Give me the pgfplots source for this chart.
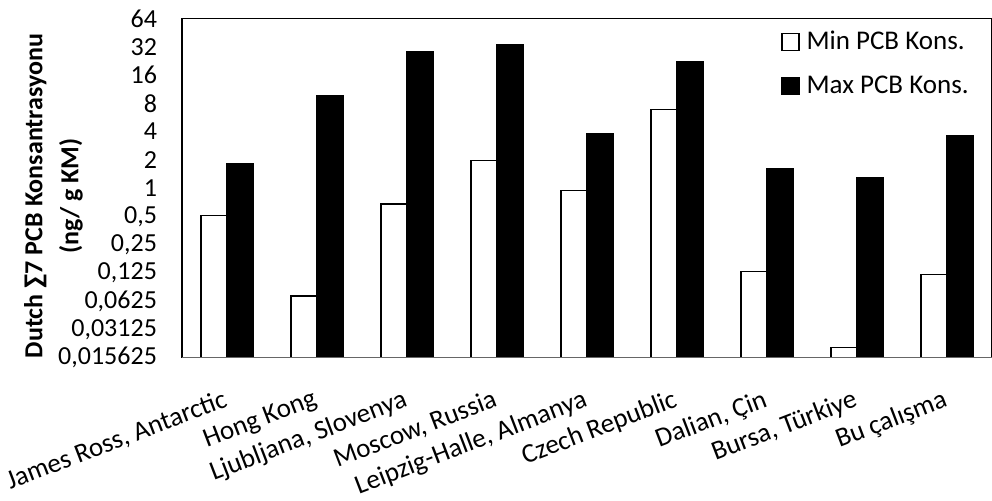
\documentclass[border=0pt]{standalone}
\usepackage{fontspec}
\setmainfont{Carlito}
\usepackage{pgfplots}
\pgfplotsset{compat=1.18}
\pgfplotstableread{
x min max
0 0.507 1.80
1 0.0707 9.7
2 0.674 28.3
3 1.98 33.9
4 0.946 3.78
5 6.9 22.4
6 0.130 1.62
7 0.0199 1.30
8 0.120 3.64
}\pcbdata
\begin{document}
\begin{tikzpicture}
\begin{axis}[
  at={(0pt,0pt)}, anchor=south west,
  scale only axis, width=405pt, height=169.5pt,
  xmin=-0.5, xmax=8.5,
  ymode=log, log basis y=2, ymin=0.015625, ymax=64, log origin=infty,
  ybar=0pt, bar width=13pt,
  xtick={0,1,2,3,4,5,6,7,8},
  xticklabels={{James Ross, Antarctic},{Hong Kong},{Ljubljana, Slovenya},{Moscow, Russia},{Leipzig-Halle, Almanya},{Czech Republic},{Dalian, Çin},{Bursa, Türkiye},{Bu çalışma}},
  ytick={0.015625,0.03125,0.0625,0.125,0.25,0.5,1,2,4,8,16,32,64},
  yticklabels={{0,015625},{0,03125},{0,0625},{0,125},{0,25},{0,5},{1},{2},{4},{8},{16},{32},{64}},
  /pgf/number format/assume math mode=true,
  major tick length=0pt, minor tick num=0,
  ymajorgrids=false,
  axis line style={black, line width=0.8pt},
  tick label style={font=\fontsize{13}{15}\selectfont},
  yticklabel style={xshift=-9pt},
  xticklabel style={font=\fontsize{13.5}{15}\selectfont, rotate=21, anchor=north east, yshift=-10pt, xshift=-4.5pt},
  legend style={at={(rel axis cs:0.7395,0.975)}, anchor=north west, draw=none, fill=none,
    font=\fontsize{13.5}{15}\selectfont, row sep=7.5pt, inner sep=0pt},
  legend cell align=left,
  legend image code/.code={\draw[#1, line width=0.6pt] (0pt,-4pt) rectangle (8.5pt,4.5pt); \path (10pt,0pt);},
]
\addplot[fill=white, draw=black, line width=0.6pt] table[x=x, y=min] {\pcbdata};
\addplot[fill=black, draw=black, line width=0.6pt] table[x=x, y=max] {\pcbdata};
\legend{Min PCB Kons., Max PCB Kons.}
\draw[gray!80!black, line width=0.8pt] (rel axis cs:0,0) -- (rel axis cs:1,0);
\end{axis}
\node[rotate=90, align=center, font=\bfseries\fontsize{13}{18}\selectfont] at (-64.25pt,80.75pt) {Dutch ∑7 PCB Konsantrasyonu\\(ng/ g KM)};
\pgfresetboundingbox
\useasboundingbox (-91pt,-71.25pt) rectangle (405pt,178.75pt);
\end{tikzpicture}
\end{document}
